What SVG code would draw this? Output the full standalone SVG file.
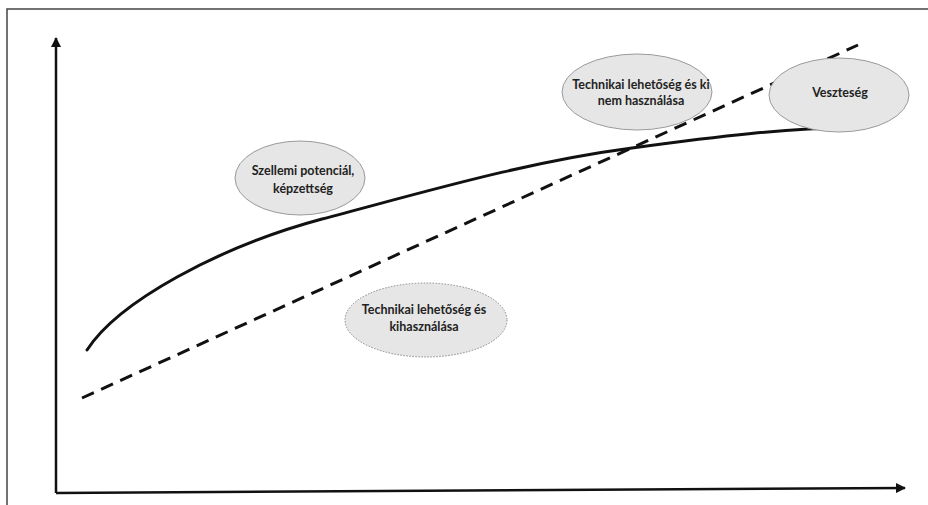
<svg xmlns="http://www.w3.org/2000/svg" width="928" height="505" viewBox="0 0 928 505">
<style>
.frame{stroke:#222;stroke-width:1.5;fill:none}
.axis{stroke:#111;stroke-width:2.5;fill:none}
.curve{stroke:#111;stroke-width:3;fill:none;stroke-linecap:round}
.dash{stroke:#111;stroke-width:3;fill:none;stroke-dasharray:13 8}
.bubble{fill:#e6e6e6;stroke:#9a9a9a;stroke-width:1}
.dotted{fill:#e6e6e6;stroke:#888;stroke-width:1;stroke-dasharray:1.5 1.5}
.lbl{font-family:Lato,"Liberation Sans",sans-serif;font-weight:bold;font-size:12.5px;fill:#222;text-anchor:middle}
</style>
<defs>
<marker id="arr" viewBox="0 0 10 10" refX="9" refY="5" markerWidth="4" markerHeight="4" orient="auto" markerUnits="strokeWidth">
<path d="M0,0 L10,5 L0,10 z" fill="#111"/>
</marker>
</defs>
<rect x="0" y="0" width="928" height="505" fill="#fff"/>
<path class="frame" d="M7,505 L7,9 L928,9" style="stroke:#444"/>
<g id="connectors">
<path class="axis" d="M56,493 L56,38" marker-end="url(#arr)"/>
<path class="axis" d="M56,493 L905,488" marker-end="url(#arr)"/>
<path class="curve" d="M87,350 C118,302 218,247 322,219 C425,192 525,162 632,148 C720,136 790,128 848,128"/>
<path class="dash" d="M82,398 L858,45"/>
</g>
<g id="szellemi">
<ellipse class="bubble" cx="300" cy="178" rx="65" ry="37"/>
<text class="lbl" x="303" y="175">Szellemi potenciál,</text>
<text class="lbl" x="303" y="193">képzettség</text>
</g>
<g id="kihasznalasa">
<ellipse class="dotted" cx="426" cy="320" rx="81" ry="37"/>
<text class="lbl" x="424" y="314">Technikai lehetőség és</text>
<text class="lbl" x="424" y="331">kihasználása</text>
</g>
<g id="ki-nem">
<ellipse class="bubble" cx="637" cy="92" rx="75" ry="38"/>
<text class="lbl" x="641" y="89">Technikai lehetőség és ki</text>
<text class="lbl" x="641" y="105">nem használása</text>
</g>
<g id="veszteseg">
<ellipse class="bubble" cx="839" cy="95" rx="70" ry="37"/>
<text class="lbl" x="840" y="97">Veszteség</text>
</g>
</svg>
